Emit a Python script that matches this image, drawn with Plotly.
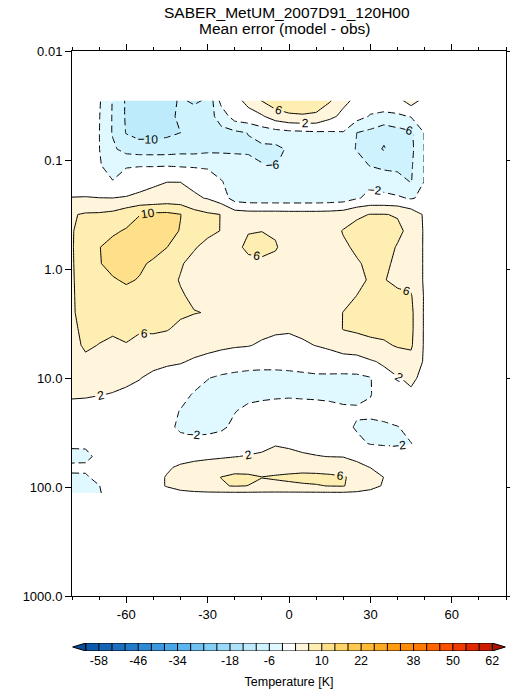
import plotly.graph_objects as go

# ---------------- data ----------------
lat = [-80, -75, -70, -65, -60, -55, -50, -45, -40, -35, -30, -25, -20, -15, -10,
       -5, 0, 5, 10, 15, 20, 25, 30, 35, 40, 45, 50]
pressure = [0.0282, 0.0398, 0.0562, 0.0794, 0.112, 0.158, 0.224, 0.316, 0.447, 0.631,
            0.891, 1.26, 1.78, 2.51, 3.55, 5.01, 7.08, 10.0, 14.1, 20.0, 28.2, 39.8,
            52.5, 66.1, 81.3, 97.7, 114.8]

# mean error (model - obs) [K], one row per pressure level, columns follow `lat`
mean_error = [
    [0, 0.5, -1.5, -6.2, -10.5, -12, -12.5, -11.5, -9.5, -10.8, -9.5, -0.5, 1, 3, 6.3, 8.5, 9.2, 9.2, 8.5, 6.5, 3, 1.2, 0, 0, 0.8, 4, 0.8],
    [0, 0.3, -1.8, -6.3, -10.5, -12, -12.5, -11.5, -9, -8, -7.5, -4.5, 0, 0.8, 1.5, 4, 5.2, 5.5, 5.2, 3, 1, -0.5, -2.3, -2.8, -2.6, -1.8, -0.8],
    [0, 0.3, -1.9, -6.3, -10.2, -11.5, -11.5, -10.8, -10, -8, -7.5, -7, -6.8, -5.9, -4, -3.5, -3, -2.8, -2.5, -2.4, -2.2, -6, -7, -9, -7.5, -6.6, -1.8],
    [0, 0.2, -1.9, -5.3, -7.5, -8, -8, -8, -7.5, -7.5, -7, -6.8, -6.6, -6.5, -7, -7, -5.5, -4.5, -4.3, -4.2, -4.5, -6.2, -8.5, -10.3, -8, -7, -1.8],
    [0, 0.3, -1.8, -3.0, -2.3, -2.2, -2.3, -2.2, -2.4, -2.5, -2.6, -3.5, -4.5, -5, -5.8, -6.1, -5, -4.2, -4, -3.8, -3.6, -4.5, -6.2, -7, -7, -6.5, -1.8],
    [0.5, 0, -1.7, -1.9, -0.5, 0.3, 1.5, 1.95, 1.95, 1.2, 0, -1.8, -3.4, -3.8, -4, -4.1, -4, -3.9, -3.8, -3.7, -3.4, -3.0, -2.6, -3.5, -4.5, -6.2, -1.8],
    [2.1, 2.2, 2.1, 2.05, 2.3, 3, 3, 3.5, 3.3, 2.5, 1.8, 0, -3.6, -4.2, -4.3, -4.3, -4.3, -4.3, -4.3, -4.1, -3.8, -2.3, -1.2, -1.2, -1.5, -2.3, -1.2],
    [5.7, 6.4, 6.5, 7, 8.5, 9.9, 10.8, 10.9, 10.1, 7.5, 6.5, 5.95, 4, 3.6, 3.6, 3.6, 3.5, 3.5, 3.5, 3.6, 4, 5.5, 6.1, 6.1, 5.8, 4.2, 1.5],
    [5.7, 8, 8.5, 9.5, 10.3, 11.5, 12.2, 11.3, 9.8, 7.8, 6.8, 5.9, 5.2, 5.8, 5.95, 5.6, 4.6, 4.2, 4.2, 4.6, 6.2, 7, 7, 7, 6.6, 5.2, 1.5],
    [5.7, 8.5, 9.9, 11, 12, 12.2, 11.2, 10.05, 8, 6.3, 5, 4.5, 5.0, 6.8, 7, 6.3, 4.5, 4, 4, 4.3, 5.5, 6.5, 7, 7, 5.8, 5, 1.5],
    [5.7, 8, 9.8, 11, 11.5, 10.5, 9.5, 8, 6.3, 5, 4.8, 4.5, 4.5, 5, 5.3, 5, 4.5, 4.2, 4.2, 4.4, 5, 5.7, 6.6, 6.5, 5.5, 5, 1.5],
    [5.7, 7.5, 8.8, 9.7, 10.4, 9.8, 8.5, 7, 5.8, 5, 4.7, 4.5, 4.4, 4.5, 4.6, 4.6, 4.4, 4.2, 4.2, 4.4, 4.8, 5.3, 6.3, 6.1, 5.5, 5, 1.5],
    [5.7, 7.2, 8, 8.5, 9, 8.5, 8, 7, 6.3, 5.5, 5, 4.7, 4.5, 4.4, 4.3, 4.3, 4.2, 4.2, 4.3, 4.6, 5.2, 6.05, 6.8, 6.6, 6.5, 6.3, 1.6],
    [5.7, 7, 7.5, 7.5, 8, 7.8, 7.5, 7, 6.5, 6.1, 5.9, 5.2, 4.6, 4.3, 4, 3.8, 3.8, 4, 4.3, 5, 6.05, 7, 7.5, 7.5, 7.3, 6.8, 1.5],
    [5.6, 6.5, 6.8, 6.4, 7, 6.3, 6.5, 6.2, 5.3, 5, 4.7, 4.3, 3.8, 3.4, 3, 2.4, 2.3, 2.8, 3.6, 4.5, 6.1, 6.5, 7, 7, 7, 6.8, 1.5],
    [5.0, 6.5, 5.9, 5.5, 5.8, 5.2, 4.8, 4.5, 4, 3.6, 3.2, 2.8, 2.4, 2.2, 1.5, 1.3, 1.2, 1.5, 2.1, 2.8, 4.2, 4.5, 5, 5.5, 6.3, 6.5, 1.5],
    [4.8, 5.3, 4.8, 4.4, 4, 3.5, 3, 2.6, 2.3, 1.5, 0.8, 0, -0.5, -0.8, -1, -1, -1, -0.9, -0.5, -0.2, 0, 0.3, 1.6, 2.5, 4, 4.8, 1.5],
    [3.5, 3.3, 3, 2.8, 2.5, 2.1, 1.2, 0.5, 0, -1, -1.9, -2.5, -2.8, -3, -3, -3, -2.8, -2.6, -2.5, -2.6, -2.7, -2.7, -2.2, 0.8, 1.8, 2.6, 1.2],
    [2.4, 2.3, 2.1, 1.9, 1.6, 1.2, 0.8, 0, -1.2, -2.2, -2.8, -3, -3, -2.6, -2.5, -2.4, -2.3, -2.4, -2.5, -2.6, -2.8, -2.8, -2.2, 0, 0.8, 1.5, 0.8],
    [1.0, 1.0, 0.9, 0.7, 0.5, 0.2, -0.3, -1.2, -2.1, -3, -3.2, -3, -2.1, -1.5, -1.2, -1, -1, -1, -1, -1.2, -1.5, -1.6, -1.2, -0.8, -0.4, 0, 0.3],
    [-0.5, -0.5, -0.4, -0.3, -0.2, 0, -0.3, -1.2, -2.6, -3, -2.8, -2.4, -1.5, -0.8, -0.5, -0.3, -0.3, -0.3, -0.5, -0.7, -1.2, -2.3, -2.8, -2.6, -2.1, -1.2, -0.5],
    [-1.6, -1.7, -1.4, -0.8, -0.5, -0.3, 0, -0.3, -0.8, -1, -1, -0.8, -0.3, 0.5, 1, 1.8, 1.6, 1.3, 1.1, 0.9, 0.5, -1.3, -2.2, -2.3, -2.3, -2.05, -0.8],
    [-2.6, -2.4, -1.6, -0.8, -0.3, 0, 0.2, 0.5, 0.8, 1.2, 1.4, 1.6, 1.9, 2.2, 2.5, 2.8, 2.6, 2.3, 2.1, 1.95, 1.9, 1.3, 0.5, -0.5, -0.8, -0.8, -0.3],
    [-1.6, -1.7, -1.2, -0.6, -0.2, 0.3, 0.8, 1.6, 2.5, 3, 3.5, 4, 4.5, 4.6, 4.5, 4.8, 4.8, 4.8, 4.6, 4.3, 3.8, 2.8, 1.95, 1.0, 0.2, -0.3, -0.2],
    [-2.3, -2.2, -1.5, -0.7, -0.2, 0.3, 1, 2.2, 3, 4, 5, 6.05, 6.8, 6.6, 6.05, 6.3, 6.6, 6.9, 6.9, 6.7, 6.3, 5, 3.5, 1.95, 0.8, 0, 0],
    [-2.6, -2.5, -2.05, -1.0, -0.4, 0.2, 1.0, 2.2, 3.5, 4.5, 5.2, 5.7, 6.2, 5.95, 5.5, 5.3, 5.4, 5.6, 5.8, 6.1, 6.2, 4.5, 3, 1.7, 0.6, 0, 0],
    [-2.5, -2.4, -2.2, -1.0, -0.3, 0, 0.3, 0.6, 0.9, 1.1, 1.2, 1.2, 1.2, 1.2, 1.2, 1.2, 1.2, 1.2, 1.2, 1.2, 1.2, 1.2, 1.0, 0.6, 0.3, 0, 0],
]

# contour levels
level_start, level_end, level_step = -62, 62, 4
cbar_tick_values = [-58, -46, -34, -18, -6, 10, 22, 38, 50, 62]

# colours: below -62, 31 bands from -62 to 62, above 62
band_colors = [
    "#0a4f9e",
    "#0c5aab", "#1364b4", "#1a6fbf", "#237cca", "#2e8ad5", "#3b99df", "#4aa7e7", "#5cb5ee",
    "#70c2f3", "#85cef6", "#9ad9f9", "#aee2fb", "#beebfc", "#cef3fe", "#e0f8ff",
    "#ffffff",
    "#fff5dc", "#ffeeb2", "#ffe08a", "#ffd468", "#ffc84e", "#ffba36", "#ffab22", "#ff9c12",
    "#ff8c08", "#ff7a02", "#ff6600", "#fa5000", "#ef3a00", "#e02800", "#cc1c00",
    "#b01200",
]

lat_ticks = [-60, -30, 0, 30, 60]
p_ticks = [0.01, 0.1, 1, 10, 100, 1000]
p_ticktext = ["0.01", "0.1", "1.0", "10.0", "100.0", "1000.0"]

# ---------------- figure ----------------
n = len(band_colors) - 1
colorscale = [[i / n, c] for i, c in enumerate(band_colors)]
fill_scale = [[0.0, "#ffffff"]] + colorscale[1:]
FONT = "Liberation Sans, Arial, sans-serif"
DASH = "7px,4px"

fig = go.Figure()

fig.add_trace(go.Contour(
    x=lat, y=pressure, z=mean_error,
    autocontour=False,
    contours=dict(start=level_start, end=level_end, size=level_step,
                  coloring="fill", showlines=False),
    colorscale=fill_scale, showscale=False,
    line=dict(width=0, smoothing=0),
    hoverinfo="skip",
))

# hide the anti-aliasing seam of the stacked fills along the open data edges
lat_lo, lat_hi = lat[0], lat[-1]
p_top, p_bot = pressure[0], pressure[-1]
fig.add_trace(go.Scatter(
    x=[lat_lo, lat_hi, lat_hi, lat_lo], y=[p_top, p_top, p_bot, p_bot],
    mode="lines", line=dict(color="white", width=1.3), hoverinfo="skip",
))

neg_levels = [v for v in range(level_start, level_end + 1, level_step) if v < 0]
pos_levels = [v for v in range(level_start, level_end + 1, level_step) if v > 0]

fig.add_trace(go.Contour(
    x=lat, y=pressure, z=mean_error,
    autocontour=False,
    contours=dict(start=min(neg_levels), end=max(neg_levels), size=level_step,
                  coloring="none", showlabels=True,
                  labelfont=dict(size=12, color="black", family=FONT)),
    line=dict(color="black", width=1, dash=DASH, smoothing=0),
    showscale=False, hoverinfo="skip",
))
fig.add_trace(go.Contour(
    x=lat, y=pressure, z=mean_error,
    autocontour=False,
    contours=dict(start=min(pos_levels), end=max(pos_levels), size=level_step,
                  coloring="none", showlabels=True,
                  labelfont=dict(size=12, color="black", family=FONT)),
    line=dict(color="black", width=1, smoothing=0),
    showscale=False, hoverinfo="skip",
))

# ---- label bar (drawn on its own axes) ----
all_levels = list(range(level_start, level_end + 1, level_step))
centers = [(a + b) / 2 for a, b in zip(all_levels[:-1], all_levels[1:])]
half = level_step / 2
fig.add_trace(go.Heatmap(
    x=centers, y=[0], z=[centers], xaxis="x2", yaxis="y2",
    colorscale=colorscale, zmin=level_start - half, zmax=level_end + half,
    showscale=False, hoverinfo="skip",
))
arrow = level_step
fig.add_trace(go.Scatter(
    x=[level_start, level_start - arrow, level_start, level_start],
    y=[-0.5, 0, 0.5, -0.5], xaxis="x2", yaxis="y2", mode="lines",
    fill="toself", fillcolor=band_colors[0], line=dict(color="black", width=1),
    hoverinfo="skip",
))
fig.add_trace(go.Scatter(
    x=[level_end, level_end + arrow, level_end, level_end],
    y=[-0.5, 0, 0.5, -0.5], xaxis="x2", yaxis="y2", mode="lines",
    fill="toself", fillcolor=band_colors[-1], line=dict(color="black", width=1),
    hoverinfo="skip",
))
sx, sy = [], []
for v in all_levels:
    sx += [v, v, None]
    sy += [-0.5, 0.5, None]
sx += [level_start, level_end, None, level_start, level_end]
sy += [-0.5, -0.5, None, 0.5, 0.5]
fig.add_trace(go.Scatter(x=sx, y=sy, xaxis="x2", yaxis="y2", mode="lines",
                         line=dict(color="black", width=1), hoverinfo="skip"))

H = 691
T, B = 51, 0
plot_h = H - T - B
main_bottom = (H - 596) / plot_h
bar_lo = (H - 651) / plot_h
bar_hi = (H - 643) / plot_h

fig.update_layout(
    width=510, height=H,
    margin=dict(l=72, r=4, t=T, b=B, autoexpand=False),
    paper_bgcolor="white", plot_bgcolor="white",
    showlegend=False,
    font=dict(family=FONT, color="black", size=13),
    xaxis=dict(
        range=[-80, 80], tickmode="array", tickvals=lat_ticks,
        ticktext=[str(v) for v in lat_ticks],
        ticks="outside", ticklen=6, tickcolor="black",
        showline=True, linecolor="black", linewidth=1, mirror="ticks",
        showgrid=False, zeroline=False,
        minor=dict(tickvals=[v for v in range(-80, 81, 10) if v not in lat_ticks],
                   ticks="outside", ticklen=3, tickcolor="black"),
        tickfont=dict(size=13), anchor="y", domain=[0, 1], automargin=False,
    ),
    yaxis=dict(
        type="log", range=[3, -2], tickmode="array", tickvals=p_ticks,
        ticktext=p_ticktext, ticks="outside", ticklen=6, tickcolor="black",
        showline=True, linecolor="black", linewidth=1, mirror="ticks",
        showgrid=False, zeroline=False, tickfont=dict(size=13),
        domain=[main_bottom, 1], anchor="x", automargin=False,
    ),
    xaxis2=dict(
        range=[level_start - 4.2, level_end + 4.2], domain=[0, 1], anchor="y2",
        tickmode="array", tickvals=cbar_tick_values,
        ticktext=[str(v) for v in cbar_tick_values], ticks="",
        showline=False, showgrid=False, zeroline=False,
        tickfont=dict(size=12.5), automargin=False,
        title=dict(text="Temperature [K]", font=dict(size=12.5), standoff=10),
    ),
    yaxis2=dict(range=[-0.5, 0.5], domain=[bar_lo, bar_hi], anchor="x2",
                visible=False, fixedrange=True),
    annotations=[
        dict(text="SABER_MetUM_2007D91_120H00", xref="paper", yref="paper",
             x=(287 - 72) / 434, y=(H - 12.2) / plot_h, showarrow=False,
             xanchor="center", yanchor="middle", font=dict(size=15.5)),
        dict(text="Mean error (model - obs)", xref="paper", yref="paper",
             x=(284 - 72) / 434, y=(H - 28.7) / plot_h, showarrow=False,
             xanchor="center", yanchor="middle", font=dict(size=15.5)),
    ],
)

fig.write_html("out.html")
